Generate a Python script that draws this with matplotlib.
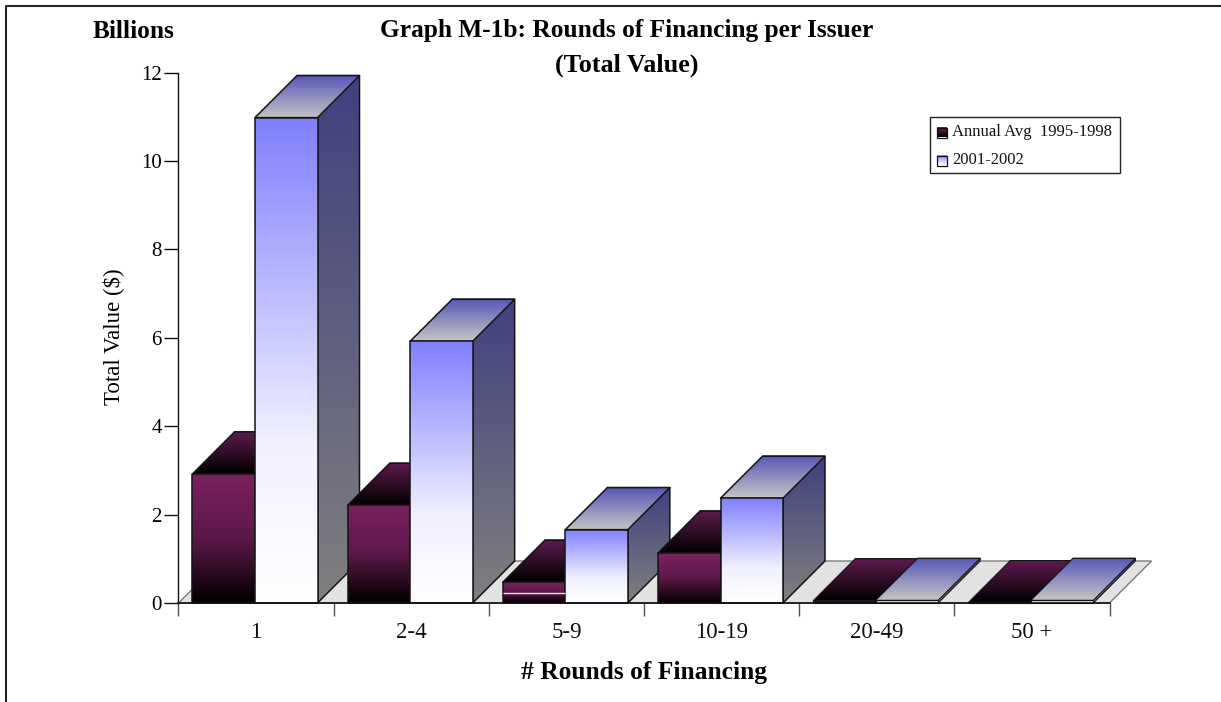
import numpy as np
import matplotlib
matplotlib.use("Agg")
import matplotlib.pyplot as plt
from matplotlib.colors import LinearSegmentedColormap
from matplotlib.patches import Polygon, Rectangle

plt.rcParams["font.family"] = ["Liberation Serif", "DejaVu Serif"]

categories = ["1", "2-4", "5-9", "10-19", "20-49", "50 +"]
annual_avg = [2.92, 2.21, 0.47, 1.13, 0.05, 0.01]
recent = [10.98, 5.92, 1.66, 2.37, 0.06, 0.06]
series_names = ["Annual Avg  1995-1998", "2001-2002"]
y_ticks = [0, 2, 4, 6, 8, 10, 12]

W, H = 1221, 702
fig = plt.figure(figsize=(W / 100, H / 100), dpi=100)
fig.patch.set_facecolor("white")

# Plot region: category slots on x, billions on y
L, R, T, B = 178.5, 1109.5, 72.5, 603.0
ax = fig.add_axes([L / W, 1 - B / H, (R - L) / W, (B - T) / H])
ax.set_xlim(0, len(categories))
ax.set_ylim(0, 12)
ax.patch.set_visible(False)
ax.set_zorder(2)

# Oblique depth of the pseudo-3D projection, expressed in data units
px_x = len(categories) / (R - L)
px_y = 12 / (B - T)
DX, DY = 42 * px_x, 42 * px_y
BAR_W = 62.5 * px_x
GROUP_PAD = 14 * px_x


def gradient_poly(points, stops, zorder, lw=1.1):
    """Fill a polygon with a vertical gradient from its top edge to its bottom edge."""
    pts = np.array(points)
    cmap = LinearSegmentedColormap.from_list("g", stops)
    im = ax.imshow(np.linspace(0, 1, 128).reshape(-1, 1), cmap=cmap, aspect="auto",
                   origin="upper", interpolation="bilinear", zorder=zorder,
                   extent=(pts[:, 0].min(), pts[:, 0].max(), pts[:, 1].min(), pts[:, 1].max()))
    im.set_clip_path(Polygon(pts, closed=True, transform=ax.transData))
    im.set_clip_box(fig.bbox)
    ax.add_patch(Polygon(pts, closed=True, fill=False, edgecolor="#141414", linewidth=lw,
                         joinstyle="round", zorder=zorder + 0.01, clip_on=False))


def draw_bar(x0, value, front, top_face, side, zorder):
    x1 = x0 + BAR_W
    lw = 1.1 if value > 0.1 else 0.8
    gradient_poly([(x0 + DX, value + DY), (x1 + DX, value + DY), (x1 + DX, DY), (x1, 0), (x1, value)],
                  side, zorder, lw)
    gradient_poly([(x0, value), (x1, value), (x1 + DX, value + DY), (x0 + DX, value + DY)],
                  top_face, zorder + 0.1, lw)
    gradient_poly([(x0, 0), (x1, 0), (x1, value), (x0, value)],
                  front, zorder + 0.2, lw)


PURPLE = dict(front=["#7c2060", "#5c1848", "#000000"], top_face=["#5e1a4e", "#000000"], side=["#3a1030", "#000000"])
BLUE = dict(front=["#8080ff", "#b8b8ff", "#f0f0ff", "#ffffff"], top_face=["#5858b8", "#c4c4c4"], side=["#40407f", "#808080"])

# Floor of the chart
floor = [(0, 0), (len(categories), 0), (len(categories) + DX, DY), (DX, DY)]
ax.add_patch(Polygon(floor, closed=True, facecolor="#e2e2e2", edgecolor="#707070",
                     linewidth=0.9, clip_on=False, zorder=1))

for i in range(len(categories)):
    z = 3 + i
    x0 = i + GROUP_PAD
    draw_bar(x0, annual_avg[i], zorder=z, **PURPLE)
    draw_bar(x0 + BAR_W, recent[i], zorder=z + 0.5, **BLUE)

# Bright streak across the short purple bar
ax.hlines(0.22, 2 + GROUP_PAD + 0.003, 2 + GROUP_PAD + BAR_W - 0.003, color="#f0e0ea", lw=1.0, zorder=20)

ax.set_xlim(0, len(categories))
ax.set_ylim(0, 12)

for s in ("top", "right"):
    ax.spines[s].set_visible(False)
ax.spines["left"].set_color("#101010")
ax.spines["bottom"].set_color("#101010")
ax.spines["left"].set_linewidth(1.0)
ax.spines["bottom"].set_linewidth(1.2)
ax.spines["left"].set_zorder(0.5)
ax.spines["bottom"].set_zorder(30)

ax.set_yticks(y_ticks)
ax.tick_params(axis="y", length=10, width=1.0, labelsize=15, pad=2, color="#101010")
ax.set_xticks(np.arange(len(categories) + 1))
ax.set_xticklabels([])
ax.tick_params(axis="x", length=9, width=1.0, color="#505050")
for i, c in enumerate(categories):
    ax.annotate(c, (i + 0.5, 0), xytext=(0, -30), textcoords="offset pixels", ha="center", va="center",
                fontsize=16.5, color="#101010", annotation_clip=False)

ax.set_xlabel("# Rounds of Financing", fontsize=18.4, fontweight="bold", labelpad=0)
ax.xaxis.set_label_coords((644 - L) / (R - L), -(673 - B) / (B - T))
ax.xaxis.label.set_verticalalignment("center")
ax.set_ylabel("Total Value ($)", fontsize=16.5)
ax.yaxis.set_label_coords((113 - L) / (R - L), (B - 337) / (B - T))
ax.yaxis.label.set_verticalalignment("center")


def fx(px):
    return px / W


def fy(py):
    return 1 - py / H


fig.text(fx(134), fy(31), "Billions", fontsize=18.3, fontweight="bold", ha="center", va="center")
fig.text(fx(627), fy(31), "Graph M-1b: Rounds of Financing per Issuer", fontsize=18.3, fontweight="bold",
         ha="center", va="center")
fig.text(fx(626.5), fy(65), "(Total Value)", fontsize=18.8, fontweight="bold", ha="center", va="center")

# Outer frame: open on the right and at the bottom
fig.add_artist(plt.Line2D([fx(5.5), fx(5.5), fx(1221)], [fy(702), fy(5.5), fy(5.5)],
                          color="#222222", lw=1.5))

# Legend box
fig.add_artist(Rectangle((fx(930.5), fy(172.5)), 189 / W, 55.5 / H, transform=fig.transFigure,
                         facecolor="white", edgecolor="#222222", lw=1.0, zorder=5))
leg_ax = fig.add_axes([0, 0, 1, 1], zorder=6)
leg_ax.set_axis_off()
leg_ax.set_xlim(0, W)
leg_ax.set_ylim(H, 0)
swatches = [("#7c2060", "#000000", 132.5), ("#8080ff", "#ffffff", 160.5)]
for (c0, c1, yc), name in zip(swatches, series_names):
    cmap = LinearSegmentedColormap.from_list("s", [c0, c1])
    leg_ax.imshow(np.linspace(0, 1, 32).reshape(-1, 1), cmap=cmap, aspect="auto", interpolation="bilinear",
                  extent=(937, 947, yc + 5, yc - 5), zorder=6)
    leg_ax.add_patch(Rectangle((937, yc - 5), 10, 10, fill=False, edgecolor="#111111", lw=0.9, zorder=7))
    leg_ax.text(952, yc, name, fontsize=12, va="center", ha="left", color="#111111", zorder=7)
leg_ax.set_xlim(0, W)
leg_ax.set_ylim(H, 0)

fig.savefig("out.png", dpi=100)
